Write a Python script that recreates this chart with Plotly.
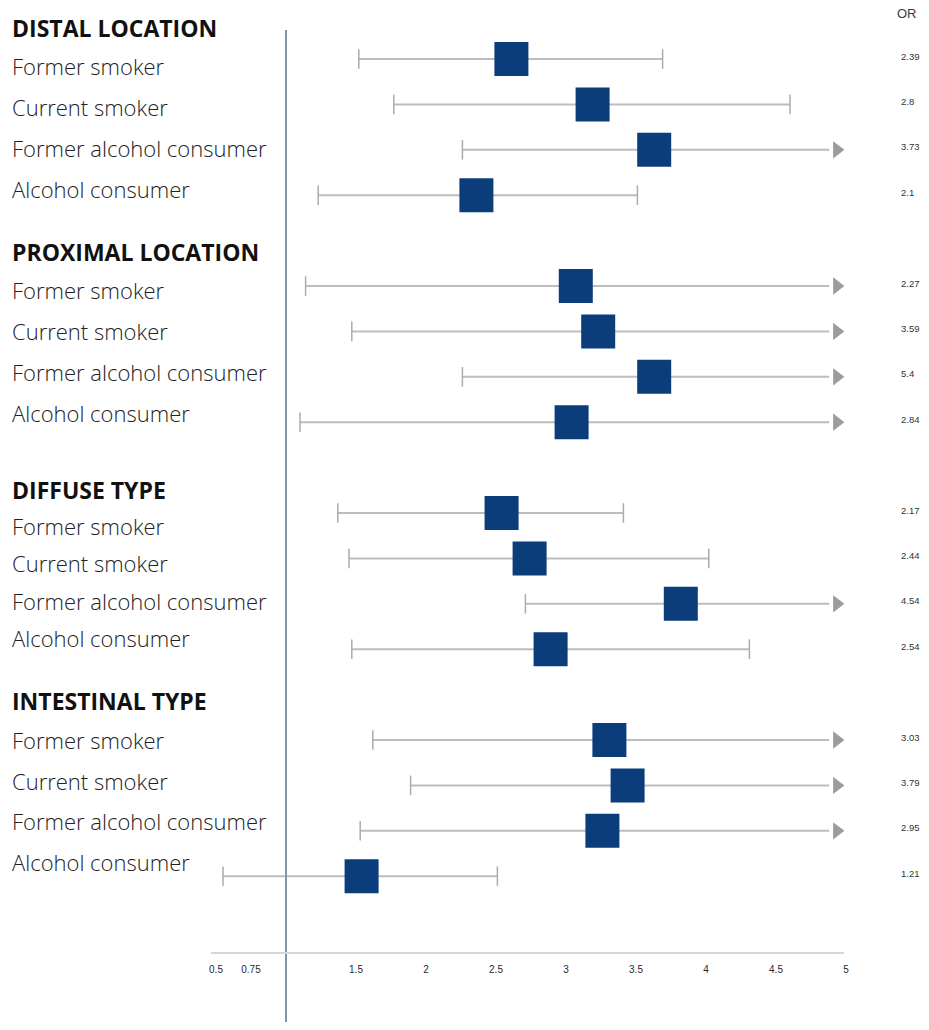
import plotly.graph_objects as go

# ---- data -------------------------------------------------------------
groups = ["DISTAL LOCATION", "PROXIMAL LOCATION", "DIFFUSE TYPE", "INTESTINAL TYPE"]
exposures = ["Former smoker", "Current smoker", "Former alcohol consumer", "Alcohol consumer"]

# odds ratio printed in the OR column (one list per group)
or_distal = ["2.39", "2.8", "3.73", "2.1"]
or_proximal = ["2.27", "3.59", "5.4", "2.84"]
or_diffuse = ["2.17", "2.44", "4.54", "2.54"]
or_intestinal = ["3.03", "3.79", "2.95", "1.21"]

# position of the box on the axis
box_distal = [2.61, 3.19, 3.63, 2.36]
box_proximal = [3.07, 3.23, 3.63, 3.04]
box_diffuse = [2.54, 2.74, 3.82, 2.89]
box_intestinal = [3.31, 3.44, 3.26, 1.54]

# confidence limits (None = upper limit runs past the axis end)
low_distal = [1.52, 1.77, 2.26, 1.23]
high_distal = [3.69, 4.60, None, 3.51]
low_proximal = [1.14, 1.47, 2.26, 1.10]
high_proximal = [None, None, None, None]
low_diffuse = [1.37, 1.45, 2.71, 1.47]
high_diffuse = [3.41, 4.02, None, 4.31]
low_intestinal = [1.62, 1.89, 1.53, 0.55]
high_intestinal = [None, None, None, 2.51]

tick_values = [0.5, 0.75, 1.5, 2, 2.5, 3, 3.5, 4, 4.5, 5]
tick_labels = ["0.5", "0.75", "1.5", "2", "2.5", "3", "3.5", "4", "4.5", "5"]

or_by_group = [or_distal, or_proximal, or_diffuse, or_intestinal]
box_by_group = [box_distal, box_proximal, box_diffuse, box_intestinal]
low_by_group = [low_distal, low_proximal, low_diffuse, low_intestinal]
high_by_group = [high_distal, high_proximal, high_diffuse, high_intestinal]

# ---- geometry ---------------------------------------------------------
W, H = 929, 1030
X0_PX, X_SCALE = 426, 140.0      # pixel of value 2 and pixels per unit
Y0_PX, Y_STEP = 59, 45.4         # pixel of first row and pixels per row slot
ARROW_AT = 4.935
LINE_END = 4.88


def xv(px):
    return 2 + (px - X0_PX) / X_SCALE


def ys(px):
    return (px - Y0_PX) / Y_STEP


def yp(px):
    return 1 - px / H


row_slot, row_box, row_low, row_high, row_or = [], [], [], [], []
for g in range(len(groups)):
    for r in range(len(exposures)):
        row_slot.append(g * 5 + r)
        row_box.append(box_by_group[g][r])
        row_low.append(low_by_group[g][r])
        row_high.append(high_by_group[g][r])
        row_or.append(or_by_group[g][r])

CI_COLOR = "#bdbdbd"
CAP_COLOR = "#ababab"
ARROW_COLOR = "#9c9c9c"
BOX_COLOR = "#0b3d7a"
LABEL_FONT = "Open Sans"

fig = go.Figure()

# confidence interval lines
lx, ly = [], []
for s, lo, hi in zip(row_slot, row_low, row_high):
    lx += [lo, hi if hi is not None else LINE_END, None]
    ly += [s, s, None]
fig.add_trace(go.Scatter(x=lx, y=ly, mode="lines",
                         line=dict(color=CI_COLOR, width=2), hoverinfo="skip"))

# end caps
cap_x = list(row_low) + [h for h in row_high if h is not None]
cap_y = list(row_slot) + [s for s, h in zip(row_slot, row_high) if h is not None]
fig.add_trace(go.Scatter(x=cap_x, y=cap_y, mode="markers",
                         marker=dict(symbol="line-ns", size=14,
                                     line=dict(color=CAP_COLOR, width=1.5)),
                         hoverinfo="skip"))

# arrows for limits beyond the axis
arr_y = [s for s, h in zip(row_slot, row_high) if h is None]
fig.add_trace(go.Scatter(x=[ARROW_AT] * len(arr_y), y=arr_y, mode="markers",
                         marker=dict(symbol="triangle-right", size=15,
                                     color=ARROW_COLOR), hoverinfo="skip"))

# boxes
fig.add_trace(go.Scatter(x=row_box, y=row_slot, mode="markers",
                         marker=dict(symbol="square", size=34, color=BOX_COLOR,
                                     line=dict(width=0)),
                         customdata=row_or,
                         hovertemplate="OR %{customdata}<extra></extra>"))

# reference line at 1 and horizontal axis line
fig.add_shape(type="line", x0=1, x1=1, y0=ys(30), y1=ys(1022),
              line=dict(color="#7b97aa", width=2))
fig.add_shape(type="line", x0=xv(211), x1=xv(844), y0=ys(953), y1=ys(953),
              line=dict(color="#d6d6d6", width=2))

ann = []
# left-hand labels
header_px = [28, 252, 490, 701]
first_row_gap = [38, 38, 36, 39]
row_gap = [41, 41, 37.3, 40.7]
for g, name in enumerate(groups):
    ann.append(dict(x=10 / W, y=yp(header_px[g]), xref="paper", yref="paper",
                    text=name, showarrow=False,
                    xanchor="left", yanchor="middle",
                    font=dict(family=LABEL_FONT, size=23, weight=700,
                              color="#111111")))
    for r, lab in enumerate(exposures):
        py = header_px[g] + first_row_gap[g] + r * row_gap[g]
        ann.append(dict(x=10 / W, y=yp(py), xref="paper", yref="paper",
                        text=lab, showarrow=False, xanchor="left", yanchor="middle",
                        font=dict(family=LABEL_FONT, size=22, weight=300,
                                  color="#222222")))

# OR column
ann.append(dict(x=907 / W, y=yp(14), xref="paper", yref="paper", text="OR",
                showarrow=False, xanchor="center", yanchor="middle",
                font=dict(family="Liberation Sans", size=13, color="#3a3a3a")))
for s, txt in zip(row_slot, row_or):
    ann.append(dict(x=899 / W, y=s, xref="paper", yref="y", text=txt,
                    showarrow=False, xanchor="left", yanchor="middle", yshift=3,
                    font=dict(family="Liberation Sans", size=9.5, color="#333333")))

fig.update_layout(
    width=W, height=H,
    margin=dict(l=0, r=0, t=0, b=0),
    paper_bgcolor="white", plot_bgcolor="white",
    showlegend=False,
    annotations=ann,
    xaxis=dict(range=[xv(0), xv(W)], domain=[0, 1], anchor="free",
               position=yp(962), showgrid=False, zeroline=False, showline=False,
               tickmode="array", tickvals=tick_values, ticktext=tick_labels,
               ticks="", tickfont=dict(family="Liberation Sans", size=10,
                                       color="#2a2a2a"),
               fixedrange=True),
    yaxis=dict(range=[ys(H), ys(0)], domain=[0, 1], visible=False,
               showgrid=False, zeroline=False, fixedrange=True),
)

fig.write_html("out.html")
